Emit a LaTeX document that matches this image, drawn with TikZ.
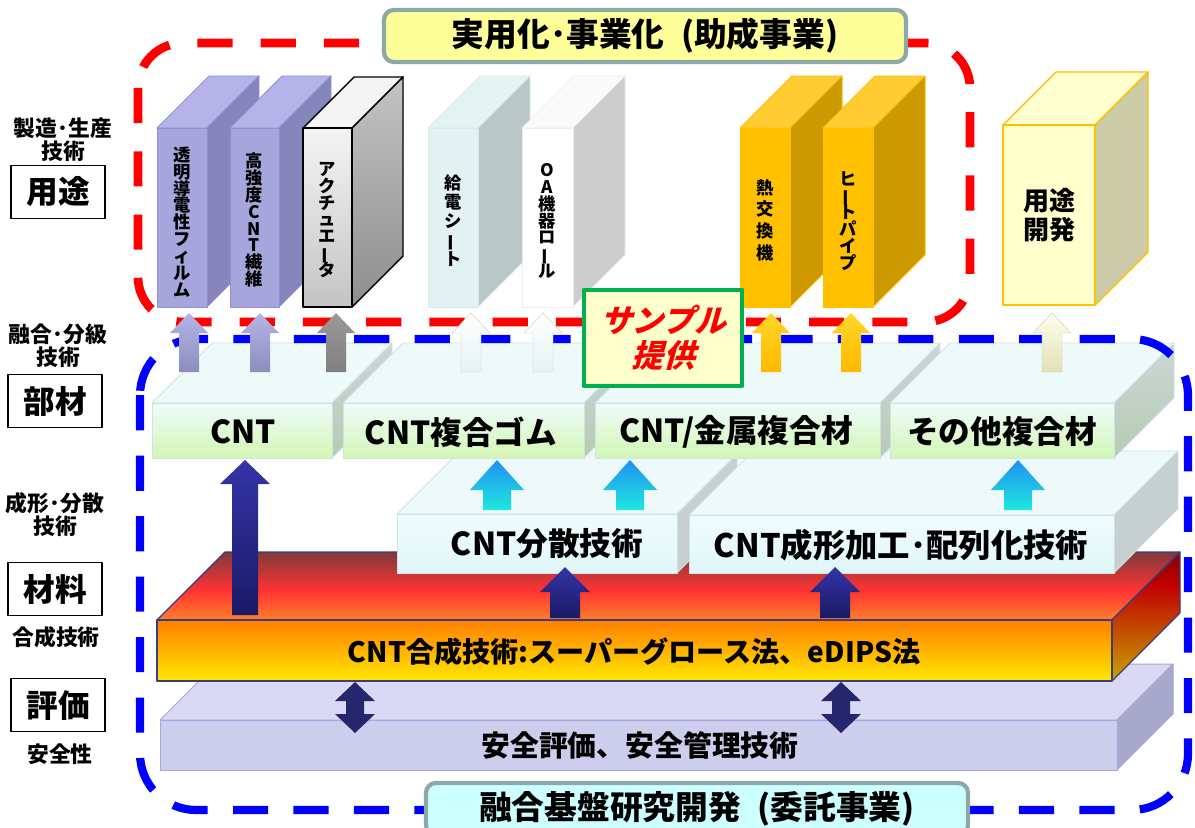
\documentclass[tikz,border=0pt]{standalone}
\usepackage{fontspec}
\setmainfont{Noto Sans CJK JP}
\newfontfamily\slantjp{Noto Sans CJK JP}[FakeSlant=0.28]
\usetikzlibrary{positioning}

% colours
\definecolor{lavF}{HTML}{A6A6DD}\definecolor{lavT}{HTML}{B4B4E8}\definecolor{lavS}{HTML}{8686BC}\definecolor{lavE}{HTML}{8E8EDC}
\definecolor{gryF}{HTML}{F4F4F4}\definecolor{gryB}{HTML}{C4C4C4}\definecolor{gryS}{HTML}{8E8E8E}
\definecolor{cyF}{HTML}{E2F1F1}\definecolor{cyT}{HTML}{E6F3F3}\definecolor{cyS}{HTML}{B9C7C7}\definecolor{cyE}{HTML}{D6EAEA}
\definecolor{whT}{HTML}{FAFAFA}\definecolor{whS}{HTML}{CDCDCD}\definecolor{whE}{HTML}{EEEEEE}
\definecolor{orF}{HTML}{FFC000}\definecolor{orT}{HTML}{FFCC33}\definecolor{orS}{HTML}{CC9A00}
\definecolor{crF}{HTML}{FFFFCC}\definecolor{crT}{HTML}{FFFFD2}\definecolor{crS}{HTML}{CCCCA8}
\definecolor{memA}{HTML}{EEFCFC}\definecolor{memB}{HTML}{D2F6B4}\definecolor{memT}{HTML}{EEF9FA}
\definecolor{memS}{HTML}{CCD6D6}\definecolor{memR}{HTML}{B8CBB4}\definecolor{memE}{HTML}{CDE3E6}
\definecolor{lowA}{HTML}{F0FCFD}\definecolor{lowB}{HTML}{E0F6F9}\definecolor{lowS}{HTML}{C6D0D0}
\definecolor{synA}{HTML}{FF7F00}\definecolor{synB}{HTML}{FFE800}\definecolor{synK}{HTML}{7F3A3A}
\definecolor{synM}{HTML}{FF3333}\definecolor{synN}{HTML}{FF7F2A}\definecolor{synS}{HTML}{8B0000}
\definecolor{synR}{HTML}{C00000}\definecolor{synY}{HTML}{C8A400}\definecolor{synE}{HTML}{3C3C82}
\definecolor{safF}{HTML}{CDCDEE}\definecolor{safT}{HTML}{D9D9F3}\definecolor{safS}{HTML}{A8A8CA}\definecolor{safE}{HTML}{A6A6E0}
\definecolor{navA}{HTML}{3434A8}\definecolor{navB}{HTML}{1A1A66}\definecolor{navD}{HTML}{26266E}
\definecolor{cyaA}{HTML}{2090F0}\definecolor{cyaB}{HTML}{20E8E0}
\definecolor{titE}{HTML}{8EA8A8}\definecolor{titY}{HTML}{FFFF99}\definecolor{titC}{HTML}{CCFFFF}
\definecolor{smpG}{HTML}{00B050}

\pgfdeclareverticalshading{syntop}{100bp}{color(0bp)=(synN); color(25bp)=(synN);
  color(47bp)=(synM); color(75bp)=(synK); color(100bp)=(synK)}
\pgfdeclareverticalshading{synside}{100bp}{color(0bp)=(synY); color(25bp)=(synY);
  color(62bp)=(synR); color(75bp)=(synS); color(100bp)=(synS)}

\tikzset{
  lav front/.style={fill=lavF, draw=lavE, line width=0.7pt},
  lav top/.style={fill=lavT, draw=lavE, line width=0.7pt},
  lav side/.style={fill=lavS, draw=lavE, line width=0.7pt},
  gry front/.style={top color=gryF, bottom color=gryB, draw=black, line width=1pt},
  gry top/.style={fill=gryF, draw=black, line width=1pt},
  gry side/.style={top color=gryB, bottom color=gryS, draw=black, line width=1pt},
  cy front/.style={fill=cyF, draw=cyE, line width=0.6pt},
  cy top/.style={fill=cyT, draw=cyE, line width=0.6pt},
  cy side/.style={fill=cyS, draw=cyE, line width=0.6pt},
  wh front/.style={fill=white, draw=whE, line width=0.6pt},
  wh top/.style={fill=whT, draw=whE, line width=0.6pt},
  wh side/.style={fill=whS, draw=whE, line width=0.6pt},
  or front/.style={fill=orF, draw=orF, line width=0.7pt},
  or top/.style={fill=orT, draw=orF, line width=0.7pt},
  or side/.style={fill=orS, draw=orF, line width=0.7pt},
  cr front/.style={fill=crF, draw=orF, line width=1pt},
  cr top/.style={fill=crT, draw=orF, line width=1pt},
  cr side/.style={fill=crS, draw=orF, line width=1pt},
  mem front/.style={top color=memA, bottom color=memB, draw=memE, line width=0.6pt},
  mem top/.style={fill=memT, draw=memE, line width=0.6pt},
  mem side/.style={top color=memS, bottom color=memR, draw=memE, line width=0.6pt},
  low front/.style={top color=lowA, bottom color=lowB, draw=memE, line width=0.6pt},
  low top/.style={fill=memT, draw=memE, line width=0.6pt},
  low side/.style={fill=lowS, draw=memE, line width=0.6pt},
  syn front/.style={top color=synA, bottom color=synB, draw=synE, line width=0.8pt},
  syn top/.style={shading=syntop, draw=synE, line width=0.8pt},
  syn side/.style={shading=synside, draw=synE, line width=0.8pt},
  saf front/.style={fill=safF, draw=safE, line width=0.7pt},
  saf top/.style={fill=safT, draw=safE, line width=0.7pt},
  saf side/.style={fill=safS, draw=safE, line width=0.7pt},
  navyarr/.style={top color=navA, bottom color=navB},
  cyanarr/.style={top color=cyaA, bottom color=cyaB},
  lavarr/.style={top color=lavT, bottom color=lavF!85!black},
  gryarr/.style={top color=gray!80, bottom color=gray},
  wharr/.style={top color=white, bottom color=cyT, draw=whS, line width=0.3pt},
  orarr/.style={top color=orT!80!yellow, bottom color=orF!90!orange},
  crarr/.style={top color=crT!40, bottom color=crS!60!crF, draw=crS, line width=0.3pt},
  lbl/.style={font=\bfseries\fontsize{15.5}{17}\selectfont, inner sep=0pt},
  tagbox/.style={draw, line width=1pt, font=\bfseries\fontsize{22.5}{24}\selectfont,
    minimum width=23.5mm, minimum height=13.25mm, inner sep=0pt},
  slabtxt/.style={font=\bfseries\fontsize{22.5}{24}\selectfont, inner sep=0pt},
  vtxt/.style={font=\bfseries\fontsize{12.3}{12}\selectfont, align=center, inner sep=0pt,
    execute at begin node={\lineskiplimit=-20pt\relax}},
  titlebox/.style={draw=titE, line width=3pt, rounded corners=7pt, minimum height=13mm,
    font=\bfseries\fontsize{23.3}{25}\selectfont}
}

% cuboid: front x1 y1 x2 y2, depth, style prefix
\newcommand{\cuboid}[6]{%
  \path[#6 top] (#1,#2) -- ++(#5,-#5) -- (#3+#5,#2-#5) -- (#3,#2) -- cycle;
  \path[#6 side] (#3,#2) -- ++(#5,-#5) -- (#3+#5,#4-#5) -- (#3,#4) -- cycle;
  \path[#6 front] (#1,#2) rectangle (#3,#4);
}
% block arrow: x, tip y, length, head half width, shaft half width, head height, style
\newcommand{\blkup}[7]{%
  \path[#7] (#1,#2) -- ++(#4,#6) -- ++(-#4+#5,0) -- ++(0,#3-#6) -- ++(-2*#5,0)
    -- ++(0,-#3+#6) -- ++(-#4+#5,0) -- cycle;
}
\newcommand{\blkdbl}[7]{%
  \path[#7] (#1,#2) -- ++(#4,#6) -- ++(-#4+#5,0) -- ++(0,#3-2*#6) -- ++(#4-#5,0)
    -- ++(-#4,#6) -- ++(-#4,-#6) -- ++(#4-#5,0) -- ++(0,-#3+2*#6) -- ++(-#4+#5,0) -- cycle;
}
\newcommand{\chouon}{\rotatebox[origin=c]{90}{ー}}

\begin{document}
\begin{tikzpicture}[x=0.25mm, y=-0.25mm, line join=round]
\useasboundingbox (0,0) rectangle (1195,827);
\clip (0,0) rectangle (1195,827);
\fill[white] (0,0) rectangle (1195,827);

% safety layer
\cuboid{160}{720}{1117}{770}{56}{saf}
\node[slabtxt, font=\bfseries\fontsize{20.5}{22}\selectfont] (anzen) at (640,745) {安全評価、安全管理技術};

% synthesis layer
\cuboid{157}{620}{1112}{681}{68}{syn}
\node[slabtxt, font=\bfseries\fontsize{20}{22}\selectfont] (gosei) at (634,652) {CNT合成技術:スーパーグロース法、eDIPS法};

\blkdbl{355}{682}{51}{20}{9}{19}{fill=navD}
\blkdbl{841}{682}{51}{20}{9}{19}{fill=navD}

% dispersion and forming
\cuboid{397}{514}{677}{573}{60}{low}
\cuboid{689}{515}{1114}{573}{64}{low}
\node[slabtxt] (bunsan) at (547,544) {CNT分散技術};
\node[slabtxt, font=\bfseries\fontsize{23}{24}\selectfont] (seikei) at (901,545) {CNT成形加工･配列化技術};

\blkup{565}{567}{51}{25}{15}{25}{navyarr}
\blkup{835}{567}{51}{25}{15}{25}{navyarr}

% members
\cuboid{152}{403}{332}{458}{60}{mem}
\cuboid{343}{403}{584}{458}{60}{mem}
\cuboid{595}{403}{880}{458}{60}{mem}
\cuboid{890}{403}{1114}{458}{60}{mem}
\node[slabtxt] (cnt) at (243,432) {CNT};
\node[slabtxt] (gomu) at (461,432) {CNT複合ゴム};
\node[slabtxt] (kinzoku) at (736,432) {CNT/金属複合材};
\node[slabtxt] (sonota) at (1002,432) {その他複合材};

\blkup{497}{460}{50}{27}{14}{30}{cyanarr}
\blkup{630}{460}{50}{27}{14}{30}{cyanarr}
\blkup{1018}{460}{50}{27}{14}{30}{cyanarr}
\blkup{245}{460}{155}{25}{13}{24}{navyarr}

% applications
\cuboid{157}{128}{207}{307}{52}{lav}
\cuboid{230}{128}{279}{307}{52}{lav}
\cuboid{303}{128}{352}{307}{51}{gry}
\cuboid{428}{128}{478}{307}{52}{cy}
\cuboid{522}{128}{573}{307}{52}{wh}
\cuboid{740}{128}{790}{307}{52}{or}
\cuboid{823}{128}{873}{307}{52}{or}
\cuboid{1003}{125}{1095}{305}{53}{cr}
\node[vtxt] (film) at (182,222) {透\\明\\導\\電\\性\\フ\\ィ\\ル\\ム};
\node[vtxt] (fiber) at (254,220) {高\\強\\度\\C\\N\\T\\繊\\維};
\node[vtxt] (actu) at (327,220) {ア\\ク\\チ\\ュ\\エ\\\chouon\\タ};
\node[vtxt, font=\bfseries\fontsize{12.3}{13.5}\selectfont] (sheet) at (453,221) {給\\電\\シ\\\chouon\\ト};
\node[vtxt] (roll) at (547,221) {O\\A\\機\\器\\ロ\\\chouon\\ル};
\node[vtxt, font=\bfseries\fontsize{12.3}{15.4}\selectfont] (heatex) at (765,220) {熱\\交\\換\\機};
\node[vtxt] (pipe) at (848,221) {ヒ\\\chouon\\ト\\パ\\イ\\プ};
\node[vtxt, font=\bfseries\fontsize{18.5}{21}\selectfont] (kaihatsu) at (1049,215) {用途\\開発};

% frames
\draw[red, line width=6.2pt, dash pattern=on 25pt off 20pt, rounded corners=32pt] (138,43) rectangle (970,322);
\draw[blue, line width=5.8pt, dash pattern=on 25pt off 18pt, rounded corners=40pt] (140,339) rectangle (1188,810);

% arrows to applications
\blkup{189}{313}{59}{19}{10}{20}{lavarr}
\blkup{260}{313}{59}{19}{10}{20}{lavarr}
\blkup{336}{313}{59}{19}{10}{20}{gryarr}
\blkup{471}{313}{59}{19}{10}{20}{wharr}
\blkup{543}{313}{59}{19}{10}{20}{wharr}
\blkup{771}{313}{59}{19}{10}{20}{orarr}
\blkup{851}{313}{59}{19}{10}{20}{orarr}
\blkup{1052}{313}{59}{19}{10}{20}{crarr}

% titles
\node[titlebox, fill=titY, minimum width=130.5mm] (josei) at (645,36) {実用化･事業化\hspace{0.5em}(助成事業)};
\node[titlebox, fill=titC, minimum width=135.5mm] (itaku) at (697,809) {融合基盤研究開発\hspace{0.5em}(委託事業)};

% sample
\node[draw=smpG, line width=3pt, fill=crF, minimum width=39.5mm, minimum height=24mm, align=center,
  font=\slantjp\bfseries\fontsize{22.5}{25}\selectfont, text=red] (sample) at (663,338) {サンプル\\提供};

% left labels
\node[lbl] (seizo) at (63,128) {製造･生産};
\node[lbl, below=0.5mm of seizo] (seizo2) {技術};
\node[tagbox] (yoto) at (58,192) {用途};
\node[lbl] (yugo) at (58,334) {融合･分級};
\node[lbl, below=0.5mm of yugo] (yugo2) {技術};
\node[tagbox] (buzai) at (55,401) {部材};
\node[lbl] (keisei) at (55,503) {成形･分散};
\node[lbl, below=0.5mm of keisei] (keisei2) {技術};
\node[tagbox] (zairyo) at (55,589) {材料};
\node[lbl] (gosei2) at (56,637) {合成技術};
\node[tagbox] (hyoka) at (58,705) {評価};
\node[lbl] (anzensei) at (60,754) {安全性};
\end{tikzpicture}
\end{document}
